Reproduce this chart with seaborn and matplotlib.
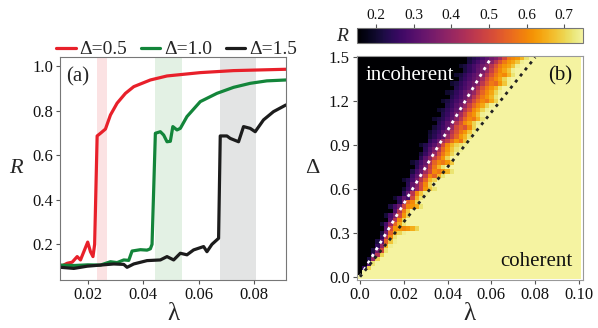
import numpy as np
import matplotlib
matplotlib.use("Agg")
import matplotlib.pyplot as plt
from matplotlib.colors import ListedColormap
import seaborn as sns
import pandas as pd

# ---------------- panel (a) data ----------------
lam_red = [0.0102, 0.0126, 0.0144, 0.0162, 0.0174, 0.0186, 0.0200, 0.0210, 0.0219, 0.0225,
           0.0234, 0.0246, 0.0264, 0.0282, 0.0306, 0.0336, 0.0366, 0.0426, 0.0486, 0.0606,
           0.0726, 0.0915]
R_red = [0.100, 0.115, 0.120, 0.145, 0.130, 0.167, 0.210, 0.167, 0.145, 0.200,
         0.686, 0.698, 0.717, 0.780, 0.833, 0.877, 0.907, 0.937, 0.955, 0.970,
         0.979, 0.985]

lam_green = [0.0102, 0.0150, 0.0200, 0.0246, 0.0282, 0.0306, 0.0330, 0.0348, 0.0360, 0.0390,
             0.0414, 0.0426, 0.0432, 0.0444, 0.0462, 0.0474, 0.0486, 0.0498, 0.0507, 0.0522,
             0.0534, 0.0558, 0.0606, 0.0666, 0.0726, 0.0786, 0.0846, 0.0915]
R_green = [0.107, 0.105, 0.108, 0.107, 0.122, 0.118, 0.130, 0.128, 0.170, 0.176,
           0.174, 0.180, 0.200, 0.698, 0.705, 0.690, 0.660, 0.662, 0.728, 0.713,
           0.720, 0.773, 0.840, 0.877, 0.904, 0.922, 0.933, 0.937]

lam_black = [0.0102, 0.0150, 0.0198, 0.0246, 0.0294, 0.0330, 0.0342, 0.0366, 0.0414, 0.0462,
             0.0486, 0.0510, 0.0534, 0.0558, 0.0582, 0.0618, 0.0630, 0.0648, 0.0672, 0.0678,
             0.0702, 0.0714, 0.0744, 0.0762, 0.0786, 0.0804, 0.0834, 0.0870, 0.0915]
R_black = [0.097, 0.092, 0.102, 0.107, 0.112, 0.110, 0.097, 0.112, 0.127, 0.130,
           0.145, 0.130, 0.160, 0.153, 0.175, 0.190, 0.167, 0.200, 0.227, 0.686,
           0.686, 0.675, 0.660, 0.728, 0.720, 0.705, 0.758, 0.795, 0.825]

series_labels = ["Δ=0.5", "Δ=1.0", "Δ=1.5"]
series_colors = ["#e8202a", "#13853a", "#1c1c1c"]
band_lo = [0.0234, 0.0444, 0.0678]
band_hi = [0.0270, 0.0540, 0.0807]
band_colors = ["#fbe2e3", "#e3f1e4", "#e3e4e4"]

# ---------------- panel (b) data ----------------
# grid: lambda = 0.000 ... 0.100 (step 0.002), Delta = 0.00 ... 1.50 (step 0.03)
lam_cells = [round(0.002 * k, 3) for k in range(51)]
delta_cells = [round(0.03 * k, 2) for k in range(51)]
# per Delta-row: first column of the transition band and R values across it
band_start = [0, 1, 1, 2, 2, 3, 3, 4, 4, 5,
              5, 6, 5, 7, 6, 8, 7, 9, 8, 10,
              10, 11, 10, 12, 12, 13, 12, 14, 14, 15,
              14, 16, 16, 16, 17, 18, 17, 19, 18, 20,
              19, 21, 20, 22, 21, 23, 22, 24, 23, 25,
              25]
band_vals = [
    [], [], [0.25, 0.7], [0.3, 0.72], [0.22, 0.4, 0.7],
    [0.25, 0.45, 0.7], [0.22, 0.35, 0.5, 0.72], [0.25, 0.4, 0.66, 0.74],
    [0.22, 0.3, 0.55, 0.68, 0.74], [0.25, 0.45, 0.6, 0.72],
    [0.22, 0.35, 0.55, 0.65, 0.7, 0.74],
    [0.3, 0.5, 0.62, 0.62, 0.6, 0.62, 0.65, 0.7],
    [0.2, 0.28, 0.4, 0.55, 0.65, 0.72], [0.3, 0.45, 0.6, 0.7],
    [0.21, 0.28, 0.36, 0.5, 0.62, 0.7], [0.3, 0.45, 0.58, 0.68],
    [0.22, 0.28, 0.34, 0.5, 0.6, 0.62, 0.65, 0.72], [0.24, 0.35, 0.55, 0.6, 0.7],
    [0.2, 0.25, 0.32, 0.28, 0.5, 0.66, 0.72], [0.24, 0.32, 0.45, 0.6, 0.68, 0.74],
    [0.2, 0.26, 0.32, 0.4, 0.5, 0.62, 0.68, 0.72],
    [0.24, 0.32, 0.38, 0.5, 0.6, 0.7],
    [0.2, 0.23, 0.28, 0.35, 0.45, 0.55, 0.66, 0.7],
    [0.26, 0.32, 0.4, 0.48, 0.6, 0.55, 0.66, 0.72],
    [0.22, 0.28, 0.33, 0.42, 0.5, 0.6, 0.58, 0.62, 0.66, 0.72],
    [0.24, 0.3, 0.36, 0.48, 0.58, 0.66, 0.72],
    [0.2, 0.23, 0.28, 0.33, 0.45, 0.55, 0.6, 0.58, 0.62, 0.68],
    [0.24, 0.31, 0.38, 0.48, 0.55, 0.62, 0.7],
    [0.21, 0.26, 0.32, 0.4, 0.5, 0.58, 0.64, 0.7, 0.74],
    [0.24, 0.3, 0.36, 0.45, 0.55, 0.62, 0.68, 0.72, 0.74, 0.76],
    [0.2, 0.23, 0.27, 0.31, 0.38, 0.5, 0.6, 0.66, 0.7, 0.72, 0.74, 0.76, 0.77],
    [0.24, 0.28, 0.33, 0.42, 0.48, 0.56, 0.62, 0.58, 0.68],
    [0.21, 0.24, 0.28, 0.31, 0.4, 0.48, 0.55, 0.62, 0.66, 0.72],
    [0.2, 0.23, 0.26, 0.31, 0.36, 0.45, 0.52, 0.58, 0.62, 0.68, 0.74],
    [0.21, 0.24, 0.27, 0.31, 0.4, 0.5, 0.55, 0.52, 0.6, 0.7],
    [0.23, 0.26, 0.31, 0.36, 0.45, 0.52, 0.6, 0.64, 0.7, 0.74],
    [0.2, 0.22, 0.24, 0.28, 0.32, 0.38, 0.46, 0.55, 0.6, 0.58, 0.65, 0.72],
    [0.23, 0.26, 0.3, 0.35, 0.42, 0.5, 0.58, 0.62, 0.68, 0.74],
    [0.2, 0.22, 0.25, 0.28, 0.32, 0.36, 0.45, 0.52, 0.6, 0.64, 0.7, 0.74],
    [0.23, 0.26, 0.3, 0.34, 0.4, 0.48, 0.55, 0.6, 0.64, 0.7, 0.74],
    [0.2, 0.22, 0.25, 0.28, 0.31, 0.35, 0.42, 0.5, 0.56, 0.6, 0.58, 0.64, 0.7],
    [0.23, 0.26, 0.29, 0.33, 0.38, 0.45, 0.52, 0.58, 0.62, 0.66, 0.72],
    [0.2, 0.22, 0.25, 0.28, 0.32, 0.36, 0.4, 0.48, 0.55, 0.6, 0.64, 0.7, 0.74],
    [0.23, 0.26, 0.29, 0.32, 0.37, 0.44, 0.52, 0.58, 0.62, 0.66, 0.72],
    [0.2, 0.22, 0.25, 0.28, 0.31, 0.34, 0.38, 0.46, 0.53, 0.58, 0.56, 0.62, 0.68, 0.74],
    [0.23, 0.26, 0.29, 0.32, 0.36, 0.42, 0.5, 0.56, 0.6, 0.64, 0.7, 0.74],
    [0.2, 0.22, 0.25, 0.28, 0.31, 0.34, 0.38, 0.45, 0.52, 0.58, 0.62, 0.6, 0.66, 0.72],
    [0.22, 0.25, 0.28, 0.32, 0.35, 0.4, 0.48, 0.55, 0.6, 0.64, 0.68, 0.74],
    [0.2, 0.22, 0.25, 0.28, 0.31, 0.34, 0.38, 0.45, 0.52, 0.58, 0.62, 0.64, 0.68, 0.74],
    [0.22, 0.25, 0.28, 0.31, 0.34, 0.38, 0.45, 0.52, 0.58, 0.62, 0.64, 0.68, 0.74],
    [0.21, 0.23, 0.25, 0.28, 0.31, 0.34, 0.37, 0.42, 0.5, 0.58, 0.6, 0.62, 0.66, 0.72],
]
R_incoherent = 0.10
R_coherent = 0.80
white_line_lam = [0.0, 0.060]
white_line_delta = [0.0, 1.50]
black_line_lam = [0.0, 0.080]
black_line_delta = [0.0, 1.50]
cbar_ticks = [0.2, 0.3, 0.4, 0.5, 0.6, 0.7]

# ---------------- style ----------------
sns.set_style("ticks")
plt.rcParams['font.family'] = ['Liberation Serif', 'DejaVu Serif']
plt.rcParams['axes.edgecolor'] = '#777777'
plt.rcParams['xtick.color'] = '#555555'
plt.rcParams['ytick.color'] = '#555555'
plt.rcParams['xtick.labelcolor'] = '#111111'
plt.rcParams['ytick.labelcolor'] = '#111111'

# slightly muted inferno (matches the softer pale yellow of the reference)
base = plt.get_cmap('inferno')(np.linspace(0, 1, 256))
base[:, 0] *= 0.972
base[:, 1] *= 0.953
base[:, 2] *= 0.976
cmap = ListedColormap(base)

fig = plt.figure(figsize=(5.98, 3.28), dpi=100)
axA = fig.add_axes([0.1003, 0.1463, 0.3779, 0.6799])
axB = fig.add_axes([0.5965, 0.1463, 0.3779, 0.6829])
cax = fig.add_axes([0.597, 0.8689, 0.378, 0.0457])

# ---------------- panel (a) ----------------
for lo, hi, c in zip(band_lo, band_hi, band_colors):
    axA.axvspan(lo, hi, color=c, lw=0, zorder=0)

data_sets = [(lam_red, R_red), (lam_green, R_green), (lam_black, R_black)]
for (lx, ry), lab, col in zip(data_sets, series_labels, series_colors):
    df = pd.DataFrame({"lam": lx, "R": ry})
    sns.lineplot(data=df, x="lam", y="R", color=col, lw=2.3, label=lab, ax=axA,
                 estimator=None, sort=False)

axA.set_xlim(0.0100, 0.0915)
axA.set_ylim(0.04, 1.04)
axA.set_xticks([0.02, 0.04, 0.06, 0.08])
axA.set_xticklabels(["0.02", "0.04", "0.06", "0.08"])
axA.set_yticks([0.2, 0.4, 0.6, 0.8, 1.0])
axA.set_yticklabels(["0.2", "0.4", "0.6", "0.8", "1.0"])
axA.tick_params(labelsize=12, length=3, width=0.8, pad=2)
axA.set_xlabel("λ", fontsize=18, labelpad=0)
axA.set_ylabel("R", fontsize=16, fontstyle='italic', rotation=0, labelpad=12, va='center')
axA.text(0.025, 0.955, "(a)", transform=axA.transAxes, fontsize=15, va='top', ha='left')
leg = axA.legend(ncol=3, loc='lower left', bbox_to_anchor=(-0.025, 0.985), frameon=False,
                 fontsize=14, handlelength=1.0, handletextpad=0.2, columnspacing=0.7,
                 borderpad=0.1, borderaxespad=0.0)
for line in leg.get_lines():
    line.set_linewidth(2.3)
for s in axA.spines.values():
    s.set_color('#777777')

# ---------------- panel (b) ----------------
nrow, ncol = len(delta_cells), len(lam_cells)
Rmap = np.full((nrow, ncol), R_coherent)
for i in range(nrow):
    s = band_start[i]
    vals = band_vals[i]
    Rmap[i, :s] = R_incoherent
    Rmap[i, s:s + len(vals)] = vals

dl = lam_cells[1] - lam_cells[0]
dd = delta_cells[1] - delta_cells[0]
lam_edges = np.append(np.array(lam_cells) - dl / 2, lam_cells[-1] + dl / 2)
del_edges = np.append(np.array(delta_cells) - dd / 2, delta_cells[-1] + dd / 2)
mesh = axB.pcolormesh(lam_edges, del_edges, Rmap, cmap=cmap, vmin=0.15, vmax=0.75,
                      shading='flat', rasterized=True)
axB.plot(white_line_lam, white_line_delta, color='white', lw=2.0, ls=(0, (1.1, 1.7)))
axB.plot(black_line_lam, black_line_delta, color='#222222', lw=2.0, ls=(0, (1.1, 1.7)))

axB.set_xlim(-0.0015, 0.1017)
axB.set_ylim(-0.022, 1.509)
axB.set_xticks([0.0, 0.02, 0.04, 0.06, 0.08, 0.10])
axB.set_xticklabels(["0.0", "0.02", "0.04", "0.06", "0.08", "0.10"])
axB.set_yticks([0.0, 0.3, 0.6, 0.9, 1.2, 1.5])
axB.set_yticklabels(["0.0", "0.3", "0.6", "0.9", "1.2", "1.5"])
axB.tick_params(labelsize=12, length=3, width=0.8, pad=2)
axB.set_xlabel("λ", fontsize=18, labelpad=0)
axB.set_ylabel("Δ", fontsize=16, rotation=0, labelpad=12, va='center')
axB.text(0.04, 0.955, "incoherent", transform=axB.transAxes, fontsize=15, color='white',
         va='top', ha='left')
axB.text(0.955, 0.955, "(b)", transform=axB.transAxes, fontsize=15, color='#111111',
         va='top', ha='right')
axB.text(0.955, 0.04, "coherent", transform=axB.transAxes, fontsize=15, color='#111111',
         va='bottom', ha='right')
for s in axB.spines.values():
    s.set_color('#999999')

cb = fig.colorbar(mesh, cax=cax, orientation='horizontal', ticks=cbar_ticks)
cax.xaxis.set_ticks_position('top')
cax.xaxis.set_label_position('top')
cax.tick_params(labelsize=11, length=3, width=0.8, pad=1)
cax.set_xticklabels([f"{t:.1f}" for t in cbar_ticks])
cb.outline.set_edgecolor('#777777')
fig.text(0.572, 0.889, "R", fontsize=14, fontstyle='italic', ha='center', va='center')

fig.savefig("out.png", dpi=100)
